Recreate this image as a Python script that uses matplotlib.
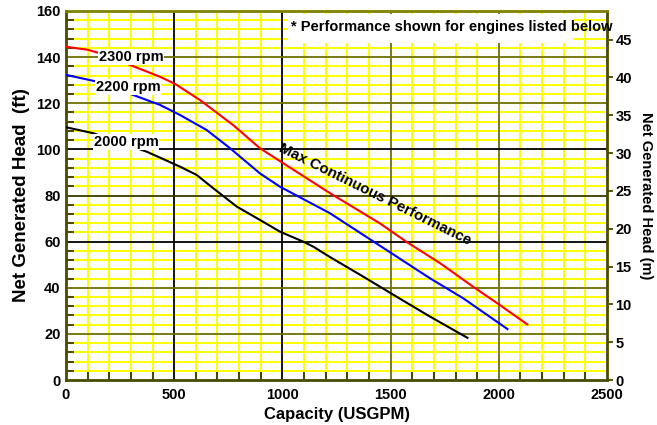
import matplotlib
matplotlib.use("Agg")
import matplotlib.pyplot as plt
from matplotlib.patches import Rectangle
import numpy as np

plt.rcParams['font.family'] = ['Liberation Sans', 'DejaVu Sans']
plt.rcParams['font.weight'] = 'bold'

# ---- data ----
rpm2300_q = [0, 100, 200, 296, 434, 504, 619, 773, 896, 1004, 1220, 1451, 1575, 1728, 1882, 2005, 2132]
rpm2300_h = [144.5, 143.2, 140.5, 136.6, 131.5, 128.4, 121.4, 110.5, 100.5, 94.0, 81.0, 67.9, 59.8, 50.7, 40.4, 32.5, 24.1]

rpm2200_q = [0, 142, 310, 434, 527, 650, 758, 896, 989, 1220, 1405, 1497, 1682, 1836, 2040]
rpm2200_h = [132.3, 129.4, 123.6, 119.3, 114.9, 108.4, 100.5, 89.6, 83.8, 72.3, 61.0, 55.4, 44.1, 35.4, 22.1]

rpm2000_q = [0, 126, 373, 527, 604, 681, 789, 911, 989, 1096, 1143, 1220, 1374, 1528, 1682, 1855]
rpm2000_h = [109.6, 107.0, 99.0, 92.5, 88.9, 83.1, 75.2, 68.6, 64.3, 60.0, 57.8, 53.3, 44.8, 36.1, 27.5, 18.3]

curve_labels = ['2300 rpm', '2200 rpm', '2000 rpm']
label_pos_q = [300, 287, 277]
label_pos_h = [140, 127, 103.2]

x_ticks = [0, 500, 1000, 1500, 2000, 2500]
y_ticks_ft = [0, 20, 40, 60, 80, 100, 120, 140, 160]
y_ticks_m = [0, 5, 10, 15, 20, 25, 30, 35, 40, 45]
FT_PER_M = 3.2808

note_text = '* Performance shown for engines listed below'
mcp_text = 'Max Continuous Performance'

# ---- figure ----
fig = plt.figure(figsize=(6.57, 4.25), dpi=100)
ax = fig.add_axes([66/657, 1 - 380/425, (607-66)/657, (380-11)/425])

ax.set_xlim(0, 2500)
ax.set_ylim(0, 160)
ax.set_xticks(x_ticks)
ax.set_yticks(y_ticks_ft)
ax.set_xticks(np.arange(0, 2501, 100), minor=True)
ax.set_yticks(np.arange(0, 161, 4), minor=True)

olive = '#6e6e00'
ax.grid(which='minor', color='#ffff00', linewidth=1.4, antialiased=False)
ax.set_axisbelow(True)
xcols = [olive, 'black', 'black', olive, olive, olive]
for xv, c in zip(x_ticks[1:-1], xcols[1:-1]):
    ax.axvline(xv, color=c, linewidth=1.3, zorder=0.8)
ycols = [olive, olive, olive, 'black', '#3a3a00', 'black', olive, olive, olive]
for yv, c in zip(y_ticks_ft[1:-1], ycols[1:-1]):
    ax.axhline(yv, color=c, linewidth=1.3, zorder=0.8)

for s in ax.spines.values():
    s.set_color('#4a4a00')
    s.set_linewidth(2)
ax.spines['top'].set_color('#808000')

ax.tick_params(which='major', direction='in', length=0, labelsize=10.5)
ax.tick_params(axis='x', which='major', pad=6)
ax.tick_params(axis='y', which='major', pad=4)
ax.tick_params(which='minor', direction='in', length=6, width=1.5, color='#4a4a00')
ax.tick_params(axis='x', which='minor', top=False)
ax.tick_params(axis='y', which='minor', right=False)
for lab in ax.get_xticklabels() + ax.get_yticklabels():
    lab.set_fontweight('bold')

# white box behind note
ax.add_patch(Rectangle((1026, 146.1), 2343 - 1026, 12.6, facecolor='white',
                       edgecolor='none', zorder=1))
ax.text(1040, 153, note_text, fontsize=10.5, fontweight='bold', va='center',
        ha='left', zorder=5, clip_on=False)

ax.plot(rpm2300_q, rpm2300_h, color='red', lw=1.5, zorder=3)
ax.plot(rpm2200_q, rpm2200_h, color='blue', lw=1.5, zorder=3)
ax.plot(rpm2000_q, rpm2000_h, color='black', lw=1.5, zorder=3)

for t, q, h in zip(curve_labels, label_pos_q, label_pos_h):
    ax.text(q, h, t, fontsize=10.5, fontweight='bold', ha='center', va='center',
            zorder=4, bbox=dict(facecolor='white', edgecolor='none', pad=0.5))

ax.text(1428, 80.6, mcp_text, fontsize=10.8, fontweight='bold', rotation=-26.3,
        ha='center', va='center', rotation_mode='anchor', zorder=4)

ax.set_xlabel('Capacity (USGPM)', fontsize=12, fontweight='bold', labelpad=3)
ax.set_ylabel('Net Generated Head  (ft)', fontsize=13.5, fontweight='bold', labelpad=4)

ax2 = ax.twinx()
ax2.set_ylim(0, 160 / FT_PER_M)
ax2.set_yticks(y_ticks_m)
ax2.tick_params(direction='out', length=4, width=1.3, color='#4a4a00', labelsize=10.5, pad=2)
for lab in ax2.get_yticklabels():
    lab.set_fontweight('bold')
for s in ax2.spines.values():
    s.set_visible(False)
ax2.set_ylabel('Net Generated Head (m)', fontsize=10.5, fontweight='bold', rotation=-90,
               labelpad=15)

fig.savefig('out.png', dpi=100)
